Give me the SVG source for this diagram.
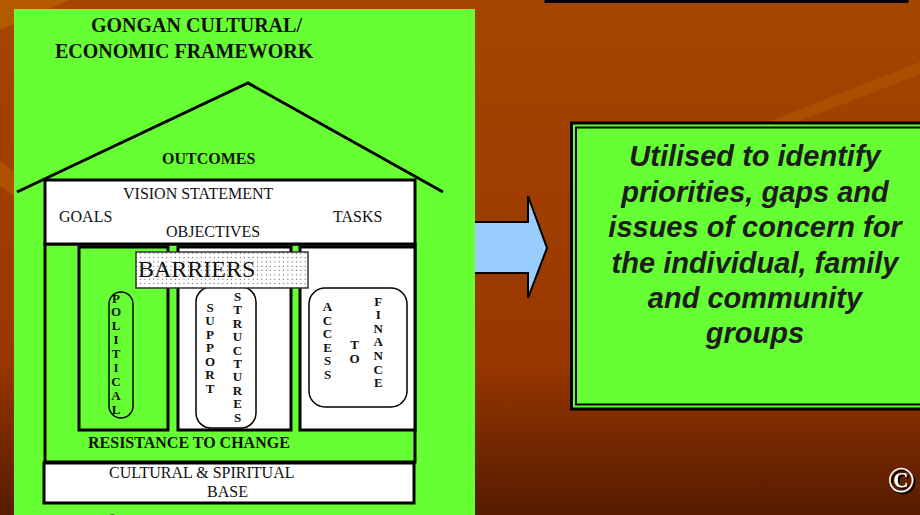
<svg xmlns="http://www.w3.org/2000/svg" width="920" height="515" viewBox="0 0 920 515">
  <defs>
    <linearGradient id="bg" x1="0" y1="0" x2="0" y2="1">
      <stop offset="0" stop-color="#a54600"/>
      <stop offset="0.7" stop-color="#983700"/>
      <stop offset="1" stop-color="#561b00"/>
    </linearGradient>
    <pattern id="dots" width="4.33" height="4.33" patternUnits="userSpaceOnUse">
      <rect width="4.33" height="4.33" fill="#fff"/>
      <rect x="1.6" y="1.6" width="1" height="1" fill="#444"/>
    </pattern>
    <filter id="shadow" x="-20%" y="-20%" width="150%" height="150%">
      <feDropShadow dx="2" dy="2" stdDeviation="0.5" flood-color="#000" flood-opacity="1"/>
    </filter>
    <style>
      .serif { font-family: "Liberation Serif", "Times New Roman", serif; fill: #111; }
      .b { font-weight: bold; }
      .box { stroke: #000; stroke-width: 3; }
      .pill { fill: none; stroke: #000; stroke-width: 1.5; }
      .vert { font-family: "Liberation Serif", "Times New Roman", serif; font-weight: bold; font-size: 13px; fill: #111; text-anchor: middle; }
      .note { font-family: "Liberation Sans", Arial, sans-serif; font-weight: bold; font-style: italic; font-size: 29px; fill: #1c1c1c; text-anchor: middle; }
    </style>
  </defs>

  <!-- background -->
  <rect width="920" height="515" fill="url(#bg)"/>
  <polygon points="0,0 70,0 0,30" fill="#c06a00" opacity="0.55"/>
  <polygon points="0,160 14,172 14,196 0,186" fill="#c06400" opacity="0.5"/>
  <polygon points="760,125 920,62 920,74 790,125" fill="#c06400" opacity="0.35"/>
  <rect x="546" y="-10" width="361" height="11.5" fill="none" stroke="#000" stroke-width="3"/>

  <!-- connectors -->
  <g id="connectors">
    <path d="M465,222 H528 V196 L547,248 L528,298 V273 H465 Z" fill="#99ccff" stroke="#000" stroke-width="2" stroke-linejoin="miter"/>
  </g>

  <!-- left framework panel -->
  <g id="framework">
    <rect x="14" y="9" width="461" height="520" fill="#66ff33"/>
    <text class="serif b" x="91" y="32" font-size="20">GONGAN CULTURAL/</text>
    <text class="serif b" x="55" y="58" font-size="20">ECONOMIC FRAMEWORK</text>
  </g>

  <g id="roof">
    <polyline points="17,192 248,83 443,192" fill="none" stroke="#000" stroke-width="3"/>
    <text class="serif b" x="162" y="164" font-size="16">OUTCOMES</text>
  </g>

  <g id="body">
    <rect class="box" x="45" y="244" width="370" height="218" fill="#66ff33"/>
    <text class="serif b" x="88" y="448" font-size="16">RESISTANCE TO CHANGE</text>
  </g>

  <g id="vision">
    <rect class="box" x="45" y="180" width="370" height="64" fill="#fff"/>
    <text class="serif" x="123" y="199" font-size="16">VISION STATEMENT</text>
    <text class="serif" x="59" y="222" font-size="16">GOALS</text>
    <text class="serif" x="333" y="222" font-size="16">TASKS</text>
    <text class="serif" x="166" y="237" font-size="16">OBJECTIVES</text>
  </g>

  <g id="political">
    <rect class="box" x="79" y="247" width="89" height="183" fill="#66ff33"/>
    <rect class="pill" x="109" y="292" width="24" height="126" rx="12"/>
    <text class="vert" y="302.5">
      <tspan x="116">P</tspan><tspan x="116" dy="13.9">O</tspan><tspan x="116" dy="13.9">L</tspan><tspan x="116" dy="13.9">I</tspan><tspan x="116" dy="13.9">T</tspan><tspan x="116" dy="13.9">I</tspan><tspan x="116" dy="13.9">C</tspan><tspan x="116" dy="13.9">A</tspan><tspan x="116" dy="13.9">L</tspan>
    </text>
  </g>

  <g id="support">
    <rect class="box" x="178" y="247" width="113" height="183" fill="#fff"/>
    <rect class="pill" x="196" y="287" width="60" height="141" rx="15"/>
    <text class="vert" y="311.5">
      <tspan x="210">S</tspan><tspan x="210" dy="13.5">U</tspan><tspan x="210" dy="13.5">P</tspan><tspan x="210" dy="13.5">P</tspan><tspan x="210" dy="13.5">O</tspan><tspan x="210" dy="13.5">R</tspan><tspan x="210" dy="13.5">T</tspan>
    </text>
    <text class="vert" y="301">
      <tspan x="237.5">S</tspan><tspan x="237.5" dy="13.4">T</tspan><tspan x="237.5" dy="13.4">R</tspan><tspan x="237.5" dy="13.4">U</tspan><tspan x="237.5" dy="13.4">C</tspan><tspan x="237.5" dy="13.4">T</tspan><tspan x="237.5" dy="13.4">U</tspan><tspan x="237.5" dy="13.4">R</tspan><tspan x="237.5" dy="13.4">E</tspan><tspan x="237.5" dy="13.4">S</tspan>
    </text>
  </g>

  <g id="access">
    <rect class="box" x="300" y="247" width="115" height="183" fill="#fff"/>
    <rect class="pill" x="309" y="288" width="98" height="119" rx="16"/>
    <text class="vert" y="311">
      <tspan x="327.5">A</tspan><tspan x="327.5" dy="13.6">C</tspan><tspan x="327.5" dy="13.6">C</tspan><tspan x="327.5" dy="13.6">E</tspan><tspan x="327.5" dy="13.6">S</tspan><tspan x="327.5" dy="13.6">S</tspan>
    </text>
    <text class="vert" y="349">
      <tspan x="354.5">T</tspan><tspan x="354.5" dy="14.3">O</tspan>
    </text>
    <text class="vert" y="305.6">
      <tspan x="378.3">F</tspan><tspan x="378.3" dy="13.6">I</tspan><tspan x="378.3" dy="13.6">N</tspan><tspan x="378.3" dy="13.6">A</tspan><tspan x="378.3" dy="13.6">N</tspan><tspan x="378.3" dy="13.6">C</tspan><tspan x="378.3" dy="13.6">E</tspan>
    </text>
  </g>

  <g id="barriers">
    <rect x="136" y="252" width="172" height="36" fill="url(#dots)" stroke="#333" stroke-width="1.5"/>
    <text class="serif" x="138" y="277" font-size="24">BARRIERS</text>
  </g>

  <g id="base">
    <rect class="box" x="44" y="463" width="370" height="40" fill="#fff"/>
    <text class="serif" x="109" y="478" font-size="16">CULTURAL &amp; SPIRITUAL</text>
    <text class="serif" x="207" y="497" font-size="16">BASE</text>
  </g>

  <g id="credit">
    <text class="serif b" x="108" y="522.5" font-size="12">© GONGAN CONSULTANCY 1995</text>
  </g>

  <!-- right note box -->
  <g id="note">
    <rect x="571.5" y="123" width="360" height="286" fill="#66ff33" stroke="#000" stroke-width="3"/>
    <rect x="576" y="127.5" width="360" height="277" fill="none" stroke="#000" stroke-width="2"/>
    <text class="note" x="755" y="166">Utilised to identify</text>
    <text class="note" x="755" y="201.5">priorities, gaps and</text>
    <text class="note" x="755" y="237">issues of concern for</text>
    <text class="note" x="755" y="272.5">the individual, family</text>
    <text class="note" x="755" y="308">and community</text>
    <text class="note" x="755" y="343">groups</text>
  </g>

  <g id="copyright">
    <text x="901" y="492" font-family="Liberation Serif, serif" font-weight="bold" font-size="36" text-anchor="middle" fill="#fff" filter="url(#shadow)">©</text>
  </g>
</svg>
